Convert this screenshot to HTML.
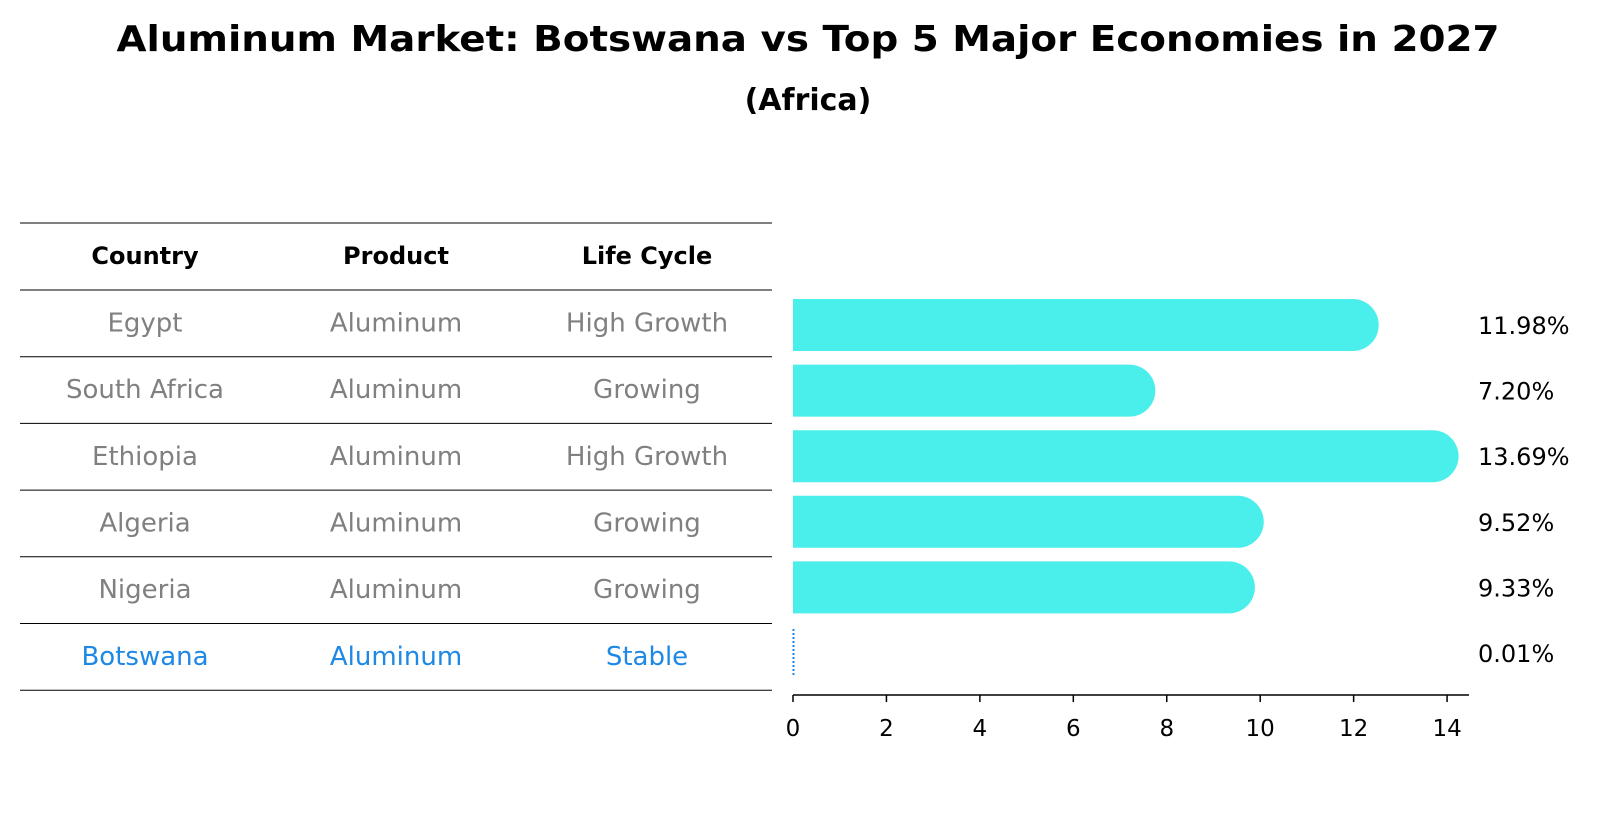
<!DOCTYPE html>
<html><head><meta charset="utf-8"><style>
body{margin:0;background:#fff}
svg{display:block;font-family:"DejaVu Sans","Liberation Sans",sans-serif}
</style></head><body>
<svg id="chart" width="1604" height="823" viewBox="0 0 1604 823">
<text x="808" y="51" font-size="36" font-weight="bold" text-anchor="middle" textLength="1383" lengthAdjust="spacingAndGlyphs">Aluminum Market: Botswana vs Top 5 Major Economies in 2027</text>
<text x="808" y="110" font-size="30" font-weight="bold" text-anchor="middle">(Africa)</text>
<g id="table"></g>
<g id="bars"></g>
</svg>
<script>
const countries=["Egypt","South Africa","Ethiopia","Algeria","Nigeria","Botswana"];
const products=["Aluminum","Aluminum","Aluminum","Aluminum","Aluminum","Aluminum"];
const lifeCycles=["High Growth","Growing","High Growth","Growing","Growing","Stable"];
const values=[11.98,7.20,13.69,9.52,9.33,0.01];
const ticks=[0,2,4,6,8,10,12,14];
const NS="http://www.w3.org/2000/svg";
function mk(tag,attrs,parent,text){const e=document.createElementNS(NS,tag);for(const k in attrs)e.setAttribute(k,attrs[k]);if(text!==undefined)e.textContent=text;parent.appendChild(e);return e;}
const table=document.getElementById('table');
const bars=document.getElementById('bars');
const rowTop=290,rowH=66.7,colX=[145,396,647];
const headers=["Country","Product","Life Cycle"];
for(let i=0;i<=countries.length+1;i++){
 const y=i===0?223:rowTop+(i-1)*rowH;
 const l=mk('line',{x1:20,x2:772,y1:y,y2:y,stroke:'#000','stroke-width':1},table);
 
 
}
headers.forEach((h,j)=>{
 const t=mk('text',{x:colX[j],y:264,'font-size':24,'font-weight':'bold','text-anchor':'middle'},table,h);
 
 
});
countries.forEach((c,i)=>{
 const y=rowTop+i*rowH+rowH/2+8;
 const col=i===countries.length-1?'#1e88e5':'#808080';
 [c,products[i],lifeCycles[i]].forEach((v,j)=>{
  const t=mk('text',{x:colX[j],y:y,'font-size':26,fill:col,'text-anchor':'middle'},table,v);
  
  
 });
});
const x0=793,pxPer=46.72;
const xs=v=>x0+v*pxPer;
const ys=i=>325+i*65.6;
const bh=52;
const ax=mk('line',{x1:x0,x2:1469,y1:695,y2:695,stroke:'#000','stroke-width':1.5},bars);


ticks.forEach(t=>{
 const tl=mk('line',{x1:xs(t),x2:xs(t),y1:695,y2:702,stroke:'#000','stroke-width':1.5},bars);
 
 
 const tt=mk('text',{x:xs(t),y:736,'font-size':23,'text-anchor':'middle'},bars,String(t));
 
 
});
values.forEach((v,i)=>{
 const y=ys(i);
 if(i===values.length-1){
  const b=mk('line',{x1:xs(v),x2:xs(v),y1:y-bh/2+2,y2:y+bh/2-2,stroke:'#1e88e5','stroke-width':2,'stroke-dasharray':'2,2'},bars);
  
  
 } else {
  const w=xs(v)-x0;
  const p=mk('path',{d:`M${x0},${y-bh/2} H${x0+w} A${bh/2},${bh/2} 0 0 1 ${x0+w},${y+bh/2} H${x0} Z`,fill:'#4aeeea'},bars);
  
  
 }
 const lt=mk('text',{x:1478,y:y+9,'font-size':24},bars,v.toFixed(2)+'%');
 
 
});
</script>
</body></html>
